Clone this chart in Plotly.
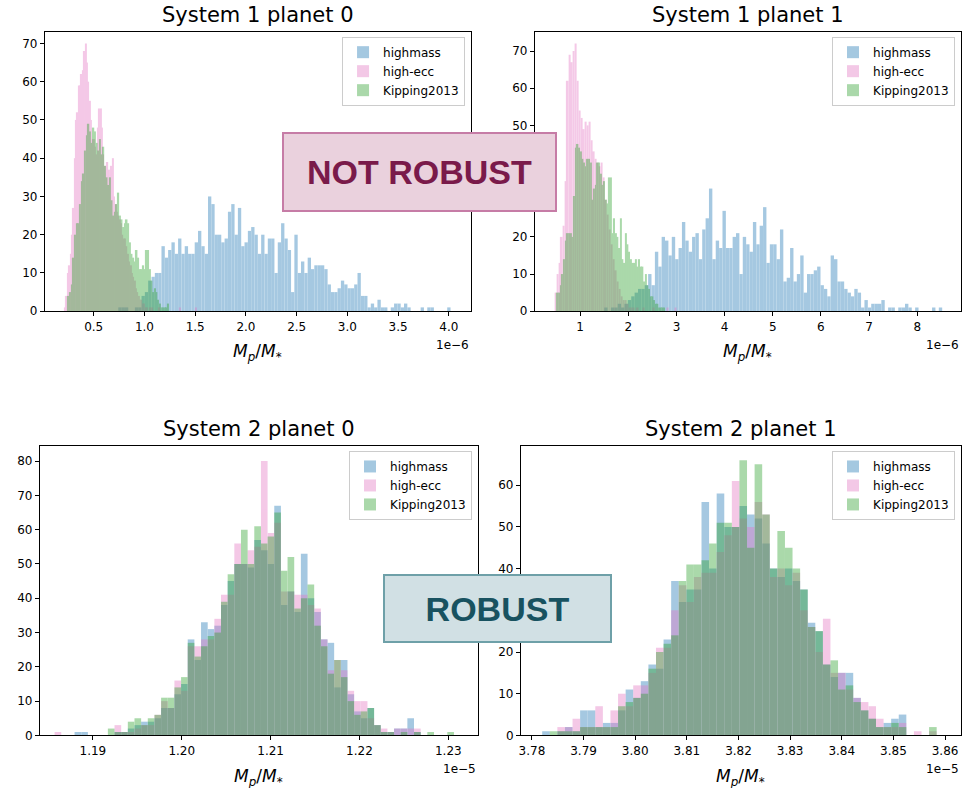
import numpy as np
import plotly.graph_objects as go

LABELS = ["highmass", "high-ecc", "Kipping2013"]
COLORS = ["#1f77b4", "#e377c2", "#2ca02c"]
TITLES = ["System 1 planet 0", "System 1 planet 1", "System 2 planet 0", "System 2 planet 1"]

# ---- System 1 planet 0 (x in units of 1e-6) ----
s1p0_highmass_start, s1p0_highmass_width = 0.742, 0.03274
s1p0_highmass = [1, 1, 1, 0, 0, 1, 1, 4, 5, 8, 9, 10, 10, 17, 14, 16, 18, 15, 19, 15, 17, 15,
                 15, 18, 21, 17, 15, 30, 28, 20, 20, 18, 19, 26, 28, 20, 27, 17, 18, 21, 22, 20,
                 15, 20, 15, 19, 19, 10, 18, 23, 19, 16, 5, 20, 10, 13, 10, 14, 11, 12, 12, 12,
                 11, 7, 5, 5, 6, 8, 7, 6, 6, 7, 10, 4, 4, 1, 2, 1, 3, 1, 1, 0, 1, 2, 2, 1, 2, 1,
                 0, 0, 0, 1, 0, 1, 1, 0, 0, 0, 0, 1]
s1p0_highecc_start, s1p0_highecc_width = 0.199, 0.01343
s1p0_highecc = [0, 1, 4, 10, 12, 15, 20, 27, 40, 50, 52, 59, 59, 62, 63, 68, 70, 65, 60, 55, 50,
                45, 45, 43, 41, 48, 53, 53, 48, 41, 38, 36, 39, 37, 35, 38, 40, 30, 28, 26, 25,
                24, 23, 20, 19, 19, 17, 15, 13, 12, 10, 9, 8, 6, 5, 4, 3, 3, 2, 2, 1,
                1, 0, 1, 0, 1, 0, 0, 0, 0, 1, 0, 0, 0, 0, 0, 0, 0, 0, 0, 0, 0, 0, 0, 0,
                1, 0, 0, 0, 0, 0, 0, 0, 0, 0, 0, 0, 1, 0, 0]
s1p0_kipping_start, s1p0_kipping_width = 0.243, 0.01637
s1p0_kipping = [4, 5, 7, 14, 20, 23, 23, 28, 34, 36, 42, 46, 49, 47, 44, 48, 47, 44, 42, 45, 41,
                43, 38, 35, 33, 35, 29, 25, 26, 28, 31, 25, 24, 22, 23, 24, 23, 18, 15, 14, 13,
                16, 14, 11, 11, 12, 11, 16, 16, 11, 8, 5, 6, 5, 3, 2, 1, 1, 1, 1, 2]

# ---- System 1 planet 1 (x in units of 1e-6) ----
s1p1_highmass_start, s1p1_highmass_width = 1.499, 0.0702
s1p1_highmass = [1, 0, 1, 1, 2, 1, 2, 3, 4, 5, 6, 6, 7, 10, 7, 16, 12, 20, 19, 15, 20, 14, 17,
                 24, 19, 16, 20, 21, 14, 22, 25, 33, 14, 19, 17, 27, 17, 17, 20, 21, 10, 20, 18,
                 16, 24, 18, 23, 28, 13, 18, 18, 14, 22, 8, 9, 17, 8, 10, 15, 5, 10, 10, 11, 12,
                 7, 6, 4, 15, 14, 8, 8, 6, 5, 4, 6, 5, 1, 3, 1, 2, 2, 2, 3, 0, 1, 1, 0, 1, 1, 2,
                 1, 0, 1, 0, 0, 0, 0, 1, 0, 1]
s1p1_highecc_start, s1p1_highecc_width = 0.47, 0.0415
s1p1_highecc = [5, 10, 13, 20, 23, 35, 62, 69, 67, 70, 72, 62, 54, 52, 49, 51, 50, 51, 46, 43, 41,
                40, 39, 40, 36, 30, 26, 22, 18, 14, 11, 8, 6, 4, 3, 3, 2, 1, 1, 1,
                0, 1, 0, 0, 1, 0, 0, 0, 0, 1, 0, 0, 0, 0, 0, 0, 1, 0, 0, 0, 1]
s1p1_kipping_start, s1p1_kipping_width = 0.513, 0.0346
s1p1_kipping = [5, 5, 7, 10, 14, 19, 21, 21, 21, 20, 31, 44, 45, 44, 43, 41, 40, 39, 41, 41,
                40, 30, 33, 34, 40, 40, 37, 34, 35, 30, 29, 36, 36, 21, 25, 21, 20, 17, 25, 14,
                13, 21, 18, 16, 14, 13, 13, 14, 12, 14, 12, 12, 8, 10, 7, 6, 4, 4, 3, 2,
                2, 1, 1, 1, 1]

# ---- System 2 planet 0 (x in units of 1e-5) ----
s2p0_start, s2p0_width = 1.185693, 0.000749
s2p0_highmass = [0, 0, 0, 1, 1, 0, 0, 0, 0, 1, 1, 2, 3, 4, 4, 5, 8, 8, 12, 15, 28, 22, 33, 31,
                 32, 38, 45, 50, 50, 49, 57, 54, 50, 67, 38, 42, 36, 53, 40, 36, 28, 27, 14, 22,
                 12, 7, 5, 8, 3, 1, 1, 2, 2, 5, 1, 0, 0, 0, 0, 0]
s2p0_highecc = [1, 0, 0, 0, 0, 0, 0, 0, 0, 3, 1, 1, 2, 3, 3, 6, 10, 8, 16, 13, 26, 26, 28, 28,
                34, 41, 41, 56, 50, 54, 55, 80, 59, 62, 42, 42, 41, 41, 38, 37, 28, 19, 22, 19,
                13, 10, 10, 5, 3, 2, 1, 2, 2, 2, 2, 0, 0, 0, 0, 0]
s2p0_kipping = [0, 0, 0, 0, 0, 0, 0, 0, 2, 1, 1, 4, 5, 3, 5, 6, 11, 11, 14, 17, 27, 23, 26, 29,
                30, 39, 47, 50, 60, 50, 61, 56, 58, 65, 48, 52, 37, 40, 44, 32, 26, 18, 22, 17,
                10, 6, 7, 8, 3, 1, 1, 0, 1, 0, 1, 0, 1, 0, 0, 1]

# ---- System 2 planet 1 (x in units of 1e-5) ----
s2p1_start, s2p1_width = 3.78052, 0.001469
s2p1_highmass = [0, 1, 0, 1, 2, 1, 6, 6, 2, 3, 3, 6, 11, 9, 13, 17, 16, 23, 37, 32, 35, 35, 56,
                 40, 58, 50, 50, 55, 53, 52, 46, 40, 38, 40, 37, 35, 27, 25, 17, 14, 15, 15, 9,
                 6, 4, 2, 3, 4, 5, 0, 0, 0, 0, 0]
s2p1_highecc = [0, 0, 0, 2, 2, 4, 2, 2, 7, 2, 6, 10, 7, 12, 12, 15, 21, 21, 30, 36, 32, 38, 39,
                39, 44, 48, 61, 52, 50, 56, 53, 38, 40, 36, 39, 30, 26, 20, 28, 15, 15, 11, 9,
                8, 7, 4, 2, 2, 3, 0, 1, 0, 1, 0]
s2p1_kipping = [0, 0, 1, 1, 1, 1, 2, 2, 2, 2, 2, 7, 8, 9, 10, 16, 20, 22, 24, 37, 41, 41, 42,
                46, 51, 51, 50, 66, 45, 65, 53, 40, 49, 45, 40, 35, 26, 25, 17, 18, 11, 12, 8,
                6, 4, 2, 2, 3, 2, 0, 0, 0, 2, 0]

W, H = 967, 788

panels = [
    dict(rect=(43, 470, 32, 314), xr=[0.019, 4.218], yr=[0, 73.06],
         xt=[0.5, 1.0, 1.5, 2.0, 2.5, 3.0, 3.5, 4.0], fmt="{:.1f}", yt=list(range(0, 80, 10)),
         offset="1e\u22126",
         series=[(s1p0_highmass, s1p0_highmass_start, s1p0_highmass_width),
                 (s1p0_highecc, s1p0_highecc_start, s1p0_highecc_width),
                 (s1p0_kipping, s1p0_kipping_start, s1p0_kipping_width)]),
    dict(rect=(534, 961, 32, 314), xr=[0.06, 8.91], yr=[0, 75.2],
         xt=[1, 2, 3, 4, 5, 6, 7, 8], fmt="{:.0f}", yt=list(range(0, 80, 10)),
         offset="1e\u22126",
         series=[(s1p1_highmass, s1p1_highmass_start, s1p1_highmass_width),
                 (s1p1_highecc, s1p1_highecc_start, s1p1_highecc_width),
                 (s1p1_kipping, s1p1_kipping_start, s1p1_kipping_width)]),
    dict(rect=(38, 477, 450, 742), xr=[1.18404, 1.23334], yr=[0, 84.4],
         xt=[1.19, 1.20, 1.21, 1.22, 1.23], fmt="{:.2f}", yt=list(range(0, 90, 10)),
         offset="1e\u22125",
         series=[(s2p0_highmass, s2p0_start, s2p0_width),
                 (s2p0_highecc, s2p0_start, s2p0_width),
                 (s2p0_kipping, s2p0_start, s2p0_width)]),
    dict(rect=(520, 961, 450, 742), xr=[3.77787, 3.86309], yr=[0, 69.4],
         xt=[3.78, 3.79, 3.80, 3.81, 3.82, 3.83, 3.84, 3.85, 3.86], fmt="{:.2f}",
         yt=list(range(0, 70, 10)), offset="1e\u22125",
         series=[(s2p1_highmass, s2p1_start, s2p1_width),
                 (s2p1_highecc, s2p1_start, s2p1_width),
                 (s2p1_kipping, s2p1_start, s2p1_width)]),
]

FONT = "DejaVu Sans"
fig = go.Figure()
annotations = []

for i, p in enumerate(panels):
    n = "" if i == 0 else str(i + 1)
    x0, x1, yt, yb = p["rect"]
    for (counts, start, width), label, color in zip(p["series"], LABELS, COLORS):
        counts = np.array(counts)
        centers = start + width * (np.arange(len(counts)) + 0.5)
        fig.add_trace(go.Bar(
            x=centers, y=counts, width=width, name=label,
            marker=dict(color=color, line=dict(width=0)), opacity=0.4,
            xaxis="x" + n, yaxis="y" + n, legend="legend" + n,
        ))

    axis_common = dict(showline=True, mirror=True, linecolor="black", linewidth=1,
                       ticks="outside", ticklen=4, tickcolor="black", showgrid=False,
                       zeroline=False, tickfont=dict(family=FONT, size=12, color="black"))
    fig.update_layout(**{
        "xaxis" + n: dict(domain=[x0 / W, x1 / W], range=p["xr"], anchor="y" + n,
                          tickvals=p["xt"], ticktext=[p["fmt"].format(v) for v in p["xt"]],
                          **axis_common),
        "yaxis" + n: dict(domain=[1 - yb / H, 1 - yt / H], range=p["yr"], anchor="x" + n,
                          tickvals=p["yt"], **axis_common),
        "legend" + n: dict(x=(x1 - 6) / W, y=1 - (yt + 5) / H, xanchor="right", yanchor="top",
                           xref="paper", yref="paper",
                           bgcolor="rgba(255,255,255,0.85)", bordercolor="#cccccc",
                           borderwidth=1, font=dict(family=FONT, size=12, color="black"),
                           tracegroupgap=0),
    })

    cx = (x0 + x1) / 2 / W
    annotations.append(dict(text=TITLES[i], x=cx, y=1 - (yt - 3) / H, xref="paper", yref="paper",
                            xanchor="center", yanchor="bottom", showarrow=False,
                            font=dict(family=FONT, size=21, color="black")))
    annotations.append(dict(text="<i>M</i><sub><i>p</i></sub>/<i>M</i><sub>*</sub>",
                            x=cx, y=1 - (yb + 42) / H, xref="paper", yref="paper",
                            xanchor="center", yanchor="middle", showarrow=False,
                            font=dict(family=FONT, size=17, color="black")))
    annotations.append(dict(text=p["offset"], x=x1 / W, y=1 - (yb + 34) / H,
                            xref="paper", yref="paper", xanchor="right", yanchor="middle",
                            showarrow=False, font=dict(family=FONT, size=12, color="black")))

# verdict boxes
annotations.append(dict(text="<b>NOT ROBUST</b>", x=418.4 / W, y=1 - 174 / H,
                        xref="paper", yref="paper", xanchor="center", yanchor="middle",
                        showarrow=False, width=271, height=76, borderpad=0, borderwidth=2,
                        bgcolor="#ead1dd", bordercolor="#c67ca6",
                        font=dict(family="Liberation Sans", size=34, color="#7a1a4a")))
annotations.append(dict(text="<b>ROBUST</b>", x=496.2 / W, y=1 - 614 / H,
                        xref="paper", yref="paper", xanchor="center", yanchor="middle",
                        showarrow=False, width=225, height=65, borderpad=0, borderwidth=2,
                        bgcolor="#d1e0e4", bordercolor="#6ea0a8",
                        font=dict(family="Liberation Sans", size=34, color="#185260")))

fig.update_layout(
    width=W, height=H, margin=dict(l=0, r=0, t=0, b=0),
    paper_bgcolor="white", plot_bgcolor="white",
    barmode="overlay", annotations=annotations,
    font=dict(family=FONT, size=12, color="black"),
)

fig.write_html("out.html", config={"displayModeBar": False},
               post_script="document.body.style.margin='0';document.body.style.overflow='hidden';")
